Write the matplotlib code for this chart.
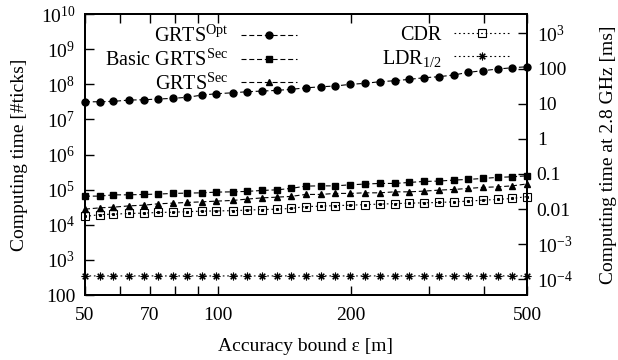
import numpy as np
import matplotlib as mpl
mpl.use('Agg')
import matplotlib.pyplot as plt
from matplotlib.ticker import FixedLocator, NullLocator, FixedFormatter

# accuracy bound eps [m] (log spaced)
eps = [50, 54, 58, 63, 68, 73, 79, 85, 92, 99, 108, 116, 126, 136, 146, 158,
       171, 184, 199, 215, 232, 251, 271, 292, 316, 341, 368, 397, 429, 463, 500]

# computing time [#ticks]
grts_opt = [3.17e7, 3.17e7, 3.26e7, 3.55e7, 3.62e7, 3.79e7, 3.97e7, 4.24e7,
            4.92e7, 5.36e7, 5.72e7, 6.11e7, 6.40e7, 6.70e7, 7.16e7, 7.89e7,
            8.49e7, 8.89e7, 9.94e7, 1.06e8, 1.18e8, 1.26e8, 1.38e8, 1.53e8,
            1.64e8, 1.83e8, 2.18e8, 2.43e8, 2.71e8, 2.95e8, 3.15e8]
basic_grts_sec = [6.53e4, 6.53e4, 7.11e4, 7.11e4, 7.30e4, 7.45e4, 7.80e4, 7.95e4,
                  8.11e4, 8.49e4, 8.65e4, 8.89e4, 9.49e4, 9.87e4, 1.08e5, 1.26e5,
                  1.28e5, 1.28e5, 1.37e5, 1.44e5, 1.50e5, 1.50e5, 1.60e5, 1.71e5,
                  1.75e5, 1.87e5, 1.95e5, 2.08e5, 2.23e5, 2.32e5, 2.47e5]
grts_sec = [2.78e4, 3.03e4, 3.17e4, 3.45e4, 3.61e4, 3.94e4, 4.12e4, 4.31e4,
            4.49e4, 4.70e4, 4.92e4, 5.36e4, 5.83e4, 6.11e4, 6.40e4, 7.30e4,
            7.30e4, 7.80e4, 7.80e4, 8.11e4, 8.11e4, 8.65e4, 8.65e4, 9.06e4,
            9.68e4, 1.01e5, 1.08e5, 1.16e5, 1.20e5, 1.28e5, 1.45e5]
cdr = [1.72e4, 1.94e4, 2.00e4, 2.10e4, 2.14e4, 2.24e4, 2.28e4, 2.35e4,
       2.44e4, 2.47e4, 2.52e4, 2.61e4, 2.71e4, 2.78e4, 2.91e4, 3.28e4,
       3.39e4, 3.50e4, 3.61e4, 3.74e4, 3.86e4, 3.99e4, 4.12e4, 4.21e4,
       4.31e4, 4.49e4, 4.70e4, 5.02e4, 5.26e4, 5.61e4, 6.32e4]
ldr = [350, 350, 350, 348, 350, 350, 348, 350, 350, 348, 350, 350, 348, 350,
       350, 348, 350, 350, 348, 350, 350, 348, 350, 350, 348, 350, 350, 348,
       350, 350, 348]

ticks_per_ms = 2.8e6  # 2.8 GHz

x_ticks = [50, 60, 70, 80, 90, 100, 200, 300, 400, 500]
x_labels = ["50", "", "70", "", "", "100", "200", "", "", "500"]
y_ticks = [1e2, 1e3, 1e4, 1e5, 1e6, 1e7, 1e8, 1e9, 1e10]
y_labels = ["100", "$10^{3}$", "$10^{4}$", "$10^{5}$", "$10^{6}$",
            "$10^{7}$", "$10^{8}$", "$10^{9}$", "$10^{10}$"]
y2_ticks = [1e-4, 1e-3, 1e-2, 1e-1, 1, 10, 100, 1e3]
y2_labels = ["$10^{-4}$", "$10^{-3}$", "0.01", "0.1", "1", "10", "100",
             "$10^{3}$"]

plt.rcParams['font.family'] = ['Liberation Serif', 'DejaVu Serif']
plt.rcParams['mathtext.fontset'] = 'custom'
plt.rcParams['mathtext.rm'] = 'Liberation Serif'
plt.rcParams['mathtext.it'] = 'Liberation Serif:italic'
plt.rcParams['font.size'] = 14

fig = plt.figure(figsize=(6.18, 3.6), dpi=100)
ax = fig.add_axes([85 / 618, 1 - 295 / 360, 442 / 618, 281 / 360])

dash = (0, (4.5, 2.5))
dots = (0, (1.5, 2.5))
lw = 0.8
h1, = ax.plot(eps, grts_opt, color='k', ls=dash, lw=lw, marker='o', ms=5,
              clip_on=False, label=r"GRTS$^{\mathrm{Opt}}$")
h2, = ax.plot(eps, basic_grts_sec, color='k', ls=dash, lw=lw, marker='s',
              ms=4.5, clip_on=False, label=r"Basic GRTS$^{\mathrm{Sec}}$")
h3, = ax.plot(eps, grts_sec, color='k', ls=dash, lw=lw, marker='^', ms=5,
              clip_on=False, label=r"GRTS$^{\mathrm{Sec}}$")
h4, = ax.plot(eps, cdr, color='k', ls=dots, lw=lw, marker='s', ms=6,
              mfc='none', mew=0.8, clip_on=False, label="CDR")
# small dot in the middle of the open squares
ax.plot(eps, cdr, ls='none', marker='s', ms=1.2, color='k', clip_on=False)
h5, = ax.plot(eps, ldr, color='k', ls=dots, lw=lw, marker=(8, 2, 0), ms=5.5,
              mew=0.8, clip_on=False, label="LDR$_{1/2}$")

ax.set_xscale('log')
ax.set_yscale('log')
ax.set_xlim(50, 500)
ax.set_ylim(1e2, 1e10)
ax.xaxis.set_major_locator(FixedLocator(x_ticks))
ax.xaxis.set_major_formatter(FixedFormatter(x_labels))
ax.xaxis.set_minor_locator(NullLocator())
ax.yaxis.set_major_locator(FixedLocator(y_ticks))
ax.yaxis.set_major_formatter(FixedFormatter(y_labels))
ax.yaxis.set_minor_locator(NullLocator())
ax.tick_params(which='both', direction='in', length=6.5, width=1,
               top=True, right=True, labelright=False, pad=7)
ax.tick_params(axis='x', pad=9)
for s in ax.spines.values():
    s.set_linewidth(1.4)

ax.set_xlabel(u"Accuracy bound \u03b5 [m]", labelpad=10)
ax.set_ylabel("Computing time [#ticks]", labelpad=9)

# second axis in ms at 2.8 GHz
ax2 = ax.twinx()
ax2.set_yscale('log')
ax2.set_ylim(1e2 / ticks_per_ms, 1e10 / ticks_per_ms)
ax2.yaxis.set_major_locator(FixedLocator(y2_ticks))
ax2.yaxis.set_major_formatter(FixedFormatter(y2_labels))
ax2.yaxis.set_minor_locator(NullLocator())
ax2.tick_params(which='both', direction='in', length=6.5, width=1, pad=7)
for s in ax2.spines.values():
    s.set_linewidth(1.4)
ax2.set_ylabel("Computing time at 2.8 GHz [ms]", labelpad=20)

# gnuplot style keys: text first, sample after
leg_kw = dict(frameon=False, markerfirst=False, numpoints=1, handlelength=2.8,
              handletextpad=0.6, borderpad=0, borderaxespad=0,
              labelspacing=0.12, loc='upper right', fontsize=14.5,
              bbox_transform=fig.transFigure)
leg1 = fig.legend(handles=[h1, h2, h3], bbox_to_anchor=(297 / 618, 1 - 26 / 360),
                  **leg_kw)
leg2 = fig.legend(handles=[h4, h5], bbox_to_anchor=(510 / 618, 1 - 26 / 360),
                  **leg_kw)

fig.savefig("out.png", dpi=100)
plt.close(fig)
